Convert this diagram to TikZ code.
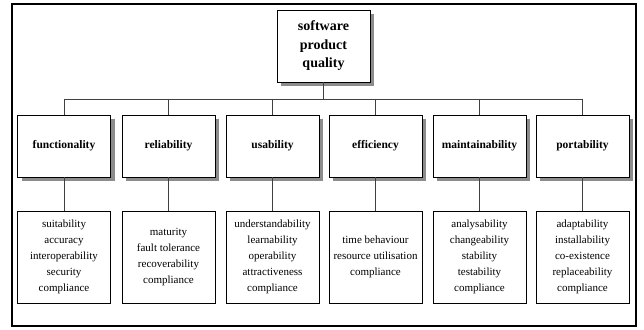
\documentclass[tikz,border=0pt]{standalone}
\usepackage{fontspec}
\setmainfont{Liberation Serif}
\usetikzlibrary{shadows}
\begin{document}
\begin{tikzpicture}[x=1pt,y=-1pt,
  boxbase/.style={draw=black, line width=0.9pt, fill=white, inner sep=0pt, outer sep=0pt, align=center},
  rootbox/.style={boxbase, minimum width=93pt, minimum height=72pt,
    font=\fontsize{14}{18.5}\selectfont\bfseries,
    drop shadow={shadow xshift=4pt, shadow yshift=-4pt, fill=black!45, opacity=1}},
  catbox/.style={boxbase, minimum width=93pt, minimum height=62pt,
    font=\fontsize{11.5}{14}\selectfont\bfseries,
    drop shadow={shadow xshift=4pt, shadow yshift=-4pt, fill=black!45, opacity=1}},
  detbox/.style={boxbase, minimum width=93pt, minimum height=92pt,
    font=\fontsize{11}{16}\selectfont},
  conn/.style={draw=black!75, line width=0.9pt},
  frame/.style={draw=black, line width=2pt}]
\useasboundingbox (0,0) rectangle (644,329);
\draw[frame] (12,4) rectangle (636,326);
\node[rootbox] (root) at (323.5,46) {software\\product\\quality};
\coordinate (bus) at (323.5,99.5);
\foreach \i/\x/\name in {1/64/functionality,2/168.5/reliability,3/272.5/usability,4/375.5/efficiency,5/479.5/maintainability,6/582.5/portability}{
  \node[catbox] (c\i) at (\x,146) {\name};
}
\node[detbox] (d1) at (64,257) {suitability\\accuracy\\interoperability\\security\\compliance};
\node[detbox] (d2) at (168.5,257) {maturity\\fault tolerance\\recoverability\\compliance};
\node[detbox] (d3) at (272.5,257) {understandability\\learnability\\operability\\attractiveness\\compliance};
\node[detbox] (d4) at (375.5,257) {time behaviour\\resource utilisation\\compliance};
\node[detbox] (d5) at (479.5,257) {analysability\\changeability\\stability\\testability\\compliance};
\node[detbox] (d6) at (582.5,257) {adaptability\\installability\\co-existence\\replaceability\\compliance};
\foreach \i in {1,...,6}{
  \draw[conn] (root.south) -- (root.south |- bus) -- (c\i.north |- bus) -- (c\i.north);
  \draw[conn] (c\i.south) -- (d\i.north);
}
\end{tikzpicture}
\end{document}
